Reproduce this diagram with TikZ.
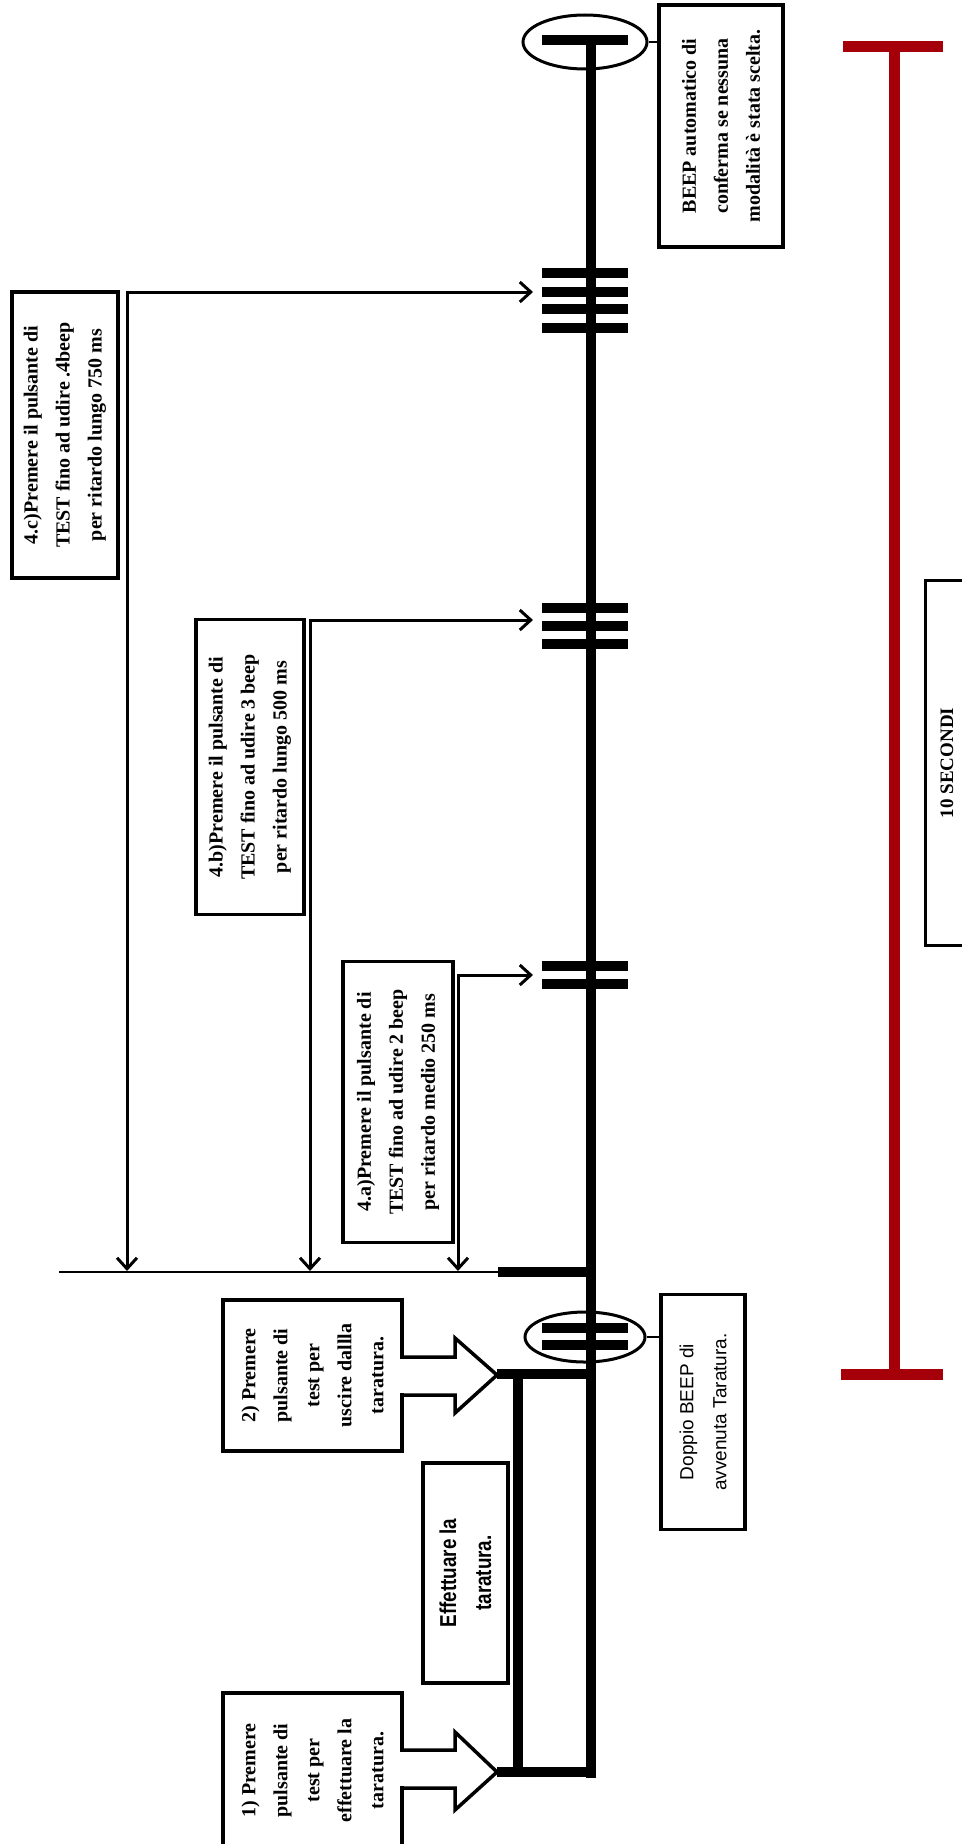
\documentclass[tikz,border=0pt]{standalone}
\usepackage{fontspec}
\setmainfont{Liberation Serif}
\newfontfamily\sansf{Liberation Sans}
\newfontfamily\sansn[FakeStretch=0.82]{Liberation Sans}
\usetikzlibrary{arrows.meta,shapes.geometric,calc}
\definecolor{scalered}{RGB}{165,0,10}
\begin{document}
\begin{tikzpicture}[x=1pt,y=-1pt,
  box/.style={draw,line width=3.5pt,rotate=90,align=center,inner sep=0pt},
  serifbold/.style={font=\fontsize{20}{32}\selectfont\bfseries},
  sansreg/.style={font=\sansf\fontsize{19}{33}\selectfont},
  sansnarrow/.style={font=\sansn\fontsize{23}{35}\selectfont\bfseries},
  bar/.style={line width=9.5pt},
  thinline/.style={line width=2.5pt},
  twoarrow/.style={line width=3pt,{Straight Barb[length=11pt,width=20pt,line width=3pt]}-{Straight Barb[length=11pt,width=20pt,line width=3pt]}},
  blockarrow/.style={line width=3.5pt,line join=miter},
  oval/.style={ellipse,draw,line width=3pt,inner sep=0pt},
  scaleline/.style={scalered,line width=11pt}
]
\useasboundingbox (0,0) rectangle (961,1844);

% ---- main time line ----
\draw[bar] (591,40) -- (591,1778);
\draw[bar] (542,40) -- (628,40);

% ---- top ellipse and box ----
\node[oval,minimum width=124pt,minimum height=54pt] (e1) at (585,42) {};
\node[box,serifbold,minimum width=242pt,minimum height=124pt] (bauto) at (721,126)
  {BEEP automatico di\\conferma se nessuna\\modalità è stata scelta.};
\draw[line width=2pt] (e1.east) -- (e1.east -| bauto.north);

% ---- beep bars ----
\foreach \yy in {273,292,309,328} \draw[bar] (542,\yy) -- (628,\yy);
\foreach \yy in {608,626,644} \draw[bar] (542,\yy) -- (628,\yy);
\foreach \yy in {966,984} \draw[bar] (542,\yy) -- (628,\yy);
\foreach \yy in {1328,1345} \draw[bar] (542,\yy) -- (628,\yy);

\coordinate (beepfour) at (533,292);
\coordinate (beepthree) at (533,620);
\coordinate (beeptwo) at (533,975);

% ---- instruction boxes 4.x ----
\node[box,serifbold,minimum width=286pt,minimum height=106pt] (c4) at (65,435)
  {4.c)Premere il pulsante di\\TEST fino ad udire .4beep\\per ritardo lungo 750 ms};
\node[box,serifbold,minimum width=295pt,minimum height=108pt] (b4) at (250,767)
  {4.b)Premere il pulsante di\\TEST fino ad udire 3 beep\\per ritardo lungo 500 ms};
\node[box,serifbold,minimum width=281pt,minimum height=110pt] (a4) at (398,1102)
  {4.a)Premere il pulsante di\\TEST fino ad udire 2 beep\\per ritardo medio 250 ms};

% ---- horizontal reference line ----
\coordinate (hl0) at (59,1272);
\coordinate (hl1) at (498,1272);
\coordinate (hl2) at (591,1272);
\draw[thinline] (hl0) -- (hl1);
\draw[bar] (hl1) -- (hl2);

\coordinate (c4down) at (127,1271);
\coordinate (b4down) at (310,1271);
\coordinate (a4down) at (458,1271);
\draw[twoarrow] (c4down) |- (beepfour);
\draw[twoarrow] (b4down) |- (beepthree);
\draw[twoarrow] (a4down) |- (beeptwo);

% ---- calibration part ----
\node[oval,minimum width=120pt,minimum height=50pt] (e2) at (585,1337) {};
\node[box,font=\sansf\fontsize{19}{33}\selectfont,minimum width=235pt,minimum height=84pt] (dop) at (703,1412)
  {Doppio BEEP di\\avvenuta Taratura.};
\draw[line width=2pt] (e2.east) -- (e2.east -| dop.north);

\node[box,serifbold,minimum width=151pt,minimum height=179pt] (box2) at (312.5,1375.5)
  {2) Premere\\pulsante di\\test per\\uscire dallla\\taratura.};
\node[box,serifbold,minimum width=155pt,minimum height=179pt] (box1) at (312.5,1770.5)
  {1) Premere\\pulsante di\\test per\\effettuare la\\taratura.};
\node[box,sansnarrow,minimum width=220pt,minimum height=85pt] (eff) at (465.5,1573)
  {Effettuare la\\taratura.};

% block arrows
\fill[white] (398,1359) rectangle (406,1393);
\draw[blockarrow] (402,1357) -- (455,1357) -- (455,1338) -- (497,1375) -- (455,1413) -- (455,1395) -- (402,1395);
\fill[white] (398,1752) rectangle (406,1786);
\draw[blockarrow] (402,1750) -- (455,1750) -- (455,1732) -- (497,1772) -- (455,1810) -- (455,1788) -- (402,1788);

\coordinate (tipTwo) at (497,1374);
\coordinate (tipOne) at (497,1772);
\draw[bar] (tipTwo) -- (596,1374);
\draw[bar] (518,1369) -- (518,1777);
\draw[bar] (tipOne) -- (596,1772);

% ---- red 10 s scale ----
\coordinate (rtop) at (894,47);
\coordinate (rbot) at (894,1374);
\draw[scaleline] (rtop) -- (rbot);
\draw[scaleline] (843,47) -- (943,47);
\draw[scaleline] (841,1374) -- (943,1374);

\draw[line width=3pt] (1000,580) -- (925,580) -- (925,945) -- (1000,945);
\node[rotate=90,serifbold,font=\fontsize{19}{30}\selectfont\bfseries,inner sep=0pt] (sec) at (947,763) {10 SECONDI};
\end{tikzpicture}
\end{document}
